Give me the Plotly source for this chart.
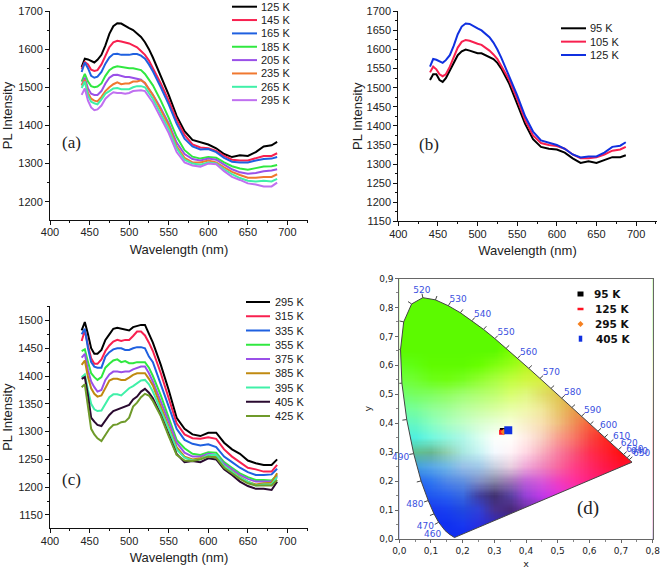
import numpy as np
import plotly.graph_objects as go

wavelength = [440,444,448,452,456,460,465,470,475,480,485,490,495,500,505,510,515,520,525,530,540,550,560,570,580,590,600,610,620,630,640,650,660,670,680,687]

a_labels = ["125 K","145 K","165 K","185 K","205 K","235 K","265 K","295 K"]
a_125 = [1553,1575,1573,1570,1565,1572,1585,1610,1640,1660,1668,1667,1660,1655,1650,1640,1632,1618,1600,1578,1530,1480,1425,1385,1362,1355,1350,1340,1325,1317,1322,1320,1330,1345,1348,1357]
a_145 = [1548,1566,1560,1546,1543,1545,1560,1585,1605,1618,1622,1620,1618,1615,1610,1605,1595,1585,1570,1550,1510,1465,1415,1375,1350,1342,1340,1333,1320,1310,1308,1308,1315,1320,1320,1327]
a_165 = [1540,1565,1550,1530,1525,1528,1540,1562,1578,1587,1588,1585,1585,1585,1587,1587,1583,1575,1560,1542,1500,1455,1405,1365,1345,1337,1338,1330,1315,1305,1303,1303,1308,1312,1313,1317]
a_185 = [1515,1535,1515,1503,1500,1502,1510,1530,1545,1552,1555,1553,1553,1550,1550,1548,1545,1535,1520,1505,1465,1420,1370,1335,1318,1313,1317,1315,1303,1293,1287,1284,1288,1292,1293,1296]
a_205 = [1505,1525,1497,1483,1480,1480,1490,1510,1525,1532,1533,1530,1527,1527,1525,1523,1520,1510,1495,1480,1445,1405,1355,1325,1312,1308,1313,1310,1297,1285,1277,1273,1275,1280,1282,1285]
a_235 = [1505,1520,1485,1470,1465,1463,1475,1490,1500,1508,1513,1508,1510,1510,1515,1515,1518,1512,1495,1480,1440,1400,1345,1315,1303,1303,1308,1303,1290,1278,1270,1263,1263,1265,1265,1272]
a_265 = [1498,1515,1478,1462,1458,1455,1468,1483,1490,1497,1498,1495,1495,1495,1500,1503,1503,1500,1485,1470,1430,1390,1340,1310,1300,1297,1303,1300,1285,1272,1262,1255,1253,1255,1253,1260]
a_295 = [1480,1497,1465,1447,1440,1442,1452,1470,1480,1487,1485,1485,1483,1485,1490,1492,1492,1490,1475,1460,1420,1380,1330,1303,1295,1292,1300,1298,1280,1265,1257,1248,1245,1240,1240,1250]

b_labels = ["95 K","105 K","125 K"]
b_95 = [1520,1535,1535,1520,1515,1525,1545,1565,1585,1595,1600,1597,1593,1590,1590,1585,1580,1575,1565,1550,1510,1460,1405,1365,1345,1340,1338,1330,1315,1303,1307,1303,1310,1318,1318,1323]
b_105 = [1540,1555,1548,1535,1530,1535,1555,1580,1605,1620,1625,1623,1618,1615,1612,1605,1597,1587,1575,1557,1520,1470,1415,1375,1355,1350,1347,1340,1325,1315,1315,1318,1325,1335,1338,1345]
b_125 = [1555,1575,1573,1570,1565,1572,1585,1610,1640,1660,1668,1667,1660,1655,1650,1640,1632,1618,1600,1578,1530,1480,1425,1385,1362,1355,1350,1340,1325,1317,1320,1320,1330,1345,1348,1357]

c_labels = ["295 K","315 K","335 K","355 K","375 K","385 K","395 K","405 K","425 K"]
c_295 = [1482,1497,1475,1450,1440,1440,1447,1465,1475,1485,1487,1485,1483,1482,1488,1490,1492,1492,1475,1460,1420,1375,1325,1305,1295,1292,1298,1298,1280,1268,1260,1248,1243,1240,1240,1250]
c_315 = [1463,1482,1455,1432,1422,1422,1430,1445,1455,1462,1465,1463,1465,1465,1472,1480,1480,1473,1460,1445,1405,1360,1315,1295,1288,1287,1290,1287,1268,1255,1245,1235,1232,1228,1228,1240]
c_335 = [1475,1485,1450,1425,1417,1415,1415,1435,1443,1448,1450,1450,1447,1447,1450,1452,1452,1450,1435,1425,1385,1345,1305,1285,1278,1275,1277,1272,1255,1245,1235,1227,1222,1222,1223,1233]
c_355 = [1445,1448,1425,1405,1398,1393,1398,1415,1422,1428,1430,1425,1427,1423,1423,1425,1425,1425,1415,1400,1365,1325,1285,1270,1260,1258,1263,1262,1245,1235,1225,1218,1213,1213,1212,1222]
c_375 = [1433,1440,1410,1390,1380,1372,1375,1393,1403,1408,1408,1407,1408,1408,1412,1415,1417,1417,1405,1390,1355,1318,1280,1262,1255,1255,1260,1258,1242,1232,1222,1215,1210,1210,1210,1220]
c_385 = [1420,1428,1398,1378,1368,1363,1365,1380,1392,1395,1395,1393,1393,1397,1402,1405,1405,1405,1395,1383,1345,1310,1272,1255,1250,1252,1257,1255,1238,1228,1218,1210,1205,1207,1208,1225]
c_395 = [1398,1403,1375,1350,1340,1337,1338,1350,1362,1367,1367,1365,1372,1378,1382,1387,1392,1393,1385,1372,1340,1305,1268,1253,1248,1250,1258,1258,1238,1228,1217,1210,1203,1205,1205,1218]
c_405 = [1395,1398,1365,1325,1318,1312,1310,1320,1330,1337,1340,1342,1345,1348,1358,1363,1372,1377,1370,1360,1330,1295,1260,1245,1247,1245,1252,1250,1232,1222,1210,1202,1197,1197,1195,1210]
c_425 = [1380,1385,1345,1305,1295,1288,1283,1295,1305,1312,1313,1317,1318,1325,1345,1352,1362,1368,1365,1355,1328,1292,1258,1248,1247,1250,1255,1253,1235,1225,1215,1207,1203,1203,1203,1213]

# Panel (d): CIE chromaticity
locus_x = [.1741,.1644,.1566,.1440,.1241,.1096,.0913,.0687,.0454,.0235,.0082,.0039,.0139,.0389,.0743,.1142,.1547,.1929,.2296,.2658,.3016,.3373,.3731,.4087,.4441,.4788,.5125,.5448,.5752,.6029,.6270,.6482,.6658,.6915,.7079,.7190,.7260,.7347]
locus_y = [.0050,.0109,.0177,.0297,.0578,.0868,.1327,.2007,.2950,.4127,.5384,.6548,.7502,.8120,.8338,.8262,.8059,.7816,.7543,.7243,.6923,.6589,.6245,.5896,.5547,.5202,.4866,.4544,.4242,.3965,.3725,.3514,.3340,.3083,.2920,.2809,.2740,.2653]
spec_labels = ["440","450","460","470","480","490","500","510","520","530","540","550","560","570","580","590","600","610","620","630","640","650"]
spec_x = [.126,.113,.105,.082,.049,.004,-.033,-.027,.071,.186,.263,.337,.408,.480,.547,.610,.661,.702,.726,.744,.758,.765]
spec_y = [-.009,-.001,.013,.041,.117,.282,.526,.742,.856,.828,.775,.712,.643,.574,.505,.443,.392,.353,.328,.310,.300,.293]
d_labels = ["95 K","125 K","295 K","405 K"]
d_x = [.327,.323,.330,.344]
d_y = [.373,.369,.370,.376]
d_ticks_x = [0,.1,.2,.3,.4,.5,.6,.7,.8]
d_ticks_y = [0,.1,.2,.3,.4,.5,.6,.7,.8,.9]
d_ticktext_x = ["0,0","0,1","0,2","0,3","0,4","0,5","0,6","0,7","0,8"]
d_ticktext_y = ["0,0","0,1","0,2","0,3","0,4","0,5","0,6","0,7","0,8","0,9"]

grid_x = [round(.05*i,2) for i in range(16)]
grid_y = [round(.05*i,2) for i in range(18)]  # bottom to top
G = "#5CFA00"; R = "#FF1010"; B = "#1030F0"
color_rows = [
 [B,B,B,B,"#1028F0","#1828E0","#2828C8","#3020A8","#3820A0","#3820A0","#4020A0","#4020A0","#4020A0","#4020A0","#4020A0","#4020A0"],
 [B,B,B,B,"#1838F0","#2830E0","#3028C0","#3820A0","#4820A8","#6028B8","#8028C8","#A030D0","#C030D0","#D030C0","#E030B0","#E030B0"],
 [B,B,"#1838F0","#1840F0","#2048E0","#3040D8","#483090","#482878","#6830A0","#8830C8","#B030D8","#E030D0","#F030C0","#FF20A0","#FF2090","#FF2090"],
 ["#1848F0","#1848F0","#2058F0","#2860F0","#3868E0","#403FA0","#403070","#5840A0","#9840D8","#C038E8","#E030E0","#F030C0","#FF2098","#FF2088","#FF2080","#FF2080"],
 ["#2060F0","#2868F0","#3078F0","#5088E8","#6090E0","#8090C8","#8888A8","#A078B8","#C060D8","#D858D8","#F040C0","#FF30A0","#FF2080","#FF1868","#FF1858","#FF1858"],
 ["#3080F0","#40A0E0","#58A8E8","#70B8E8","#98C0E8","#A0C8E8","#C8D0E0","#E8D0E0","#F0A8D8","#F088C0","#F868A0","#FF4088","#FF2868","#FF1848","#FF1030","#FF1030"],
 ["#60D8B0","#60C090","#68B890","#90D0B0","#A8E8E0","#C8F4F4","#F4FAFF","#FFF4F8","#FFD8E4","#F8B0C0","#F880A0","#F85878","#FF3050","#FF2030",R,R],
 ["#50F0E0","#50F0E0","#70F8E0","#90F8E0","#B0F8E8","#D8FFF0","#FCFFFC","#FFFFFC","#FFECE4","#F8D0C0","#F8A090","#F87868","#F84840","#FF2820","#FF1818","#FF1818"],
 ["#60F8C8","#68F8C0","#88FFC0","#A8FFC0","#C0FFC8","#D8FFD0","#E8FFD8","#F8FFD8","#F8F0C8","#F8E0B0","#F0C080","#F09058","#F86038","#F84830","#F84830","#F84830"],
 ["#70FFA0","#78FF98","#90FF98","#A0FF98","#B8FFA0","#C8FFA0","#D8FFA0","#E8FFA8","#F0F8A8","#F0E898","#E8C868","#E8A048","#E09040","#E09040","#E09040","#E09040"],
 ["#70FF70","#78FF60","#80FF60","#90FF60","#A0FF70","#B0FF70","#C0FF70","#D8FF70","#E0F880","#E0E068","#E0C850","#D8A840","#D8A840","#D8A840","#D8A840","#D8A840"],
 ["#70FF40","#70FF30","#6CFF18","#70FF10","#78FF20","#90FF30","#A8FF40","#C0FF40","#D0F840","#D8F040","#D8E040","#D8E040","#D8E040","#D8E040","#D8E040","#D8E040"],
 ["#60FF20","#60FF10","#60FC00","#60FC00","#60FC00","#68FF00","#80FF10","#98FF18","#B8F820","#C8F020","#C8F020","#C8F020","#C8F020","#C8F020","#C8F020","#C8F020"],
 [G,G,G,G,G,G,G,"#78FF00","#90FF10","#A0F810","#A0F810","#A0F810","#A0F810","#A0F810","#A0F810","#A0F810"],
 [G]*16, [G]*16, [G]*16, [G]*16,
]

def hex2rgb(h):
    return [int(h[1:3],16), int(h[3:5],16), int(h[5:7],16)]

rgb = np.array([[hex2rgb(c) for c in row] for row in color_rows], dtype=float)
fine_x = np.arange(0, .8001, .004)
fine_y = np.arange(0, .9001, .004)
img = np.zeros((len(fine_y), len(fine_x), 3))
tmp = np.zeros((len(grid_y), len(fine_x), 3))
for ch in range(3):
    for j in range(len(grid_y)):
        tmp[j,:,ch] = np.interp(fine_x, grid_x, rgb[j,:,ch])
    for i in range(len(fine_x)):
        img[:,i,ch] = np.interp(fine_y, grid_y, tmp[:,i,ch])
img = img.astype(np.uint8)

W, H = 661, 571
def dom(lo, hi, size):
    return [lo/size, hi/size]
def vdom(top, bottom):
    return [1-bottom/H, 1-top/H]
def px(x):
    return x/W
def py(y):
    return 1-y/H

A_COLORS = ["#000000","#F8204F","#1F60E0","#30E840","#9A50E8","#F07830","#40F0A8","#C070F0"]
B_COLORS = ["#000000","#F8204F","#1030E0"]
C_COLORS = ["#000000","#F8204F","#1F60E0","#30E840","#9A50E8","#C08A10","#40F0A8","#2A0A30","#6F9A2A"]
TXT = "#222222"
FONT = "Liberation Sans"

fig = go.Figure()
def add_panel(series, labels, colors, xa, ya):
    for vals, name, col in zip(series, labels, colors):
        fig.add_trace(go.Scatter(x=wavelength, y=vals, mode="lines", name=name,
                                 line=dict(color=col, width=2), xaxis=xa, yaxis=ya))

add_panel([a_125,a_145,a_165,a_185,a_205,a_235,a_265,a_295], a_labels, A_COLORS, "x", "y")
add_panel([b_95,b_105,b_125], b_labels, B_COLORS, "x2", "y2")
add_panel([c_295,c_315,c_335,c_355,c_375,c_385,c_395,c_405,c_425], c_labels, C_COLORS, "x3", "y3")

# Panel d
fig.add_trace(go.Image(z=img, x0=0, y0=0, dx=.004, dy=.004, xaxis="x4", yaxis="y4", hoverinfo="skip"))
mask_x = [-.02,.82,.82,-.02,-.02] + locus_x + [locus_x[0],-.02]
mask_y = [-.02,-.02,.92,.92,-.02] + locus_y + [locus_y[0],-.02]
fig.add_trace(go.Scatter(x=mask_x, y=mask_y, mode="none", fill="toself", fillcolor="white",
                         xaxis="x4", yaxis="y4", hoverinfo="skip"))
fig.add_trace(go.Scatter(x=locus_x+[locus_x[0]], y=locus_y+[locus_y[0]], mode="lines",
                         line=dict(color="#444444", width=1), xaxis="x4", yaxis="y4", hoverinfo="skip"))
lx, ly = np.array(locus_x), np.array(locus_y)
dxs, dys = np.gradient(lx), np.gradient(ly)
norm = np.hypot(dxs, dys)
tick_x, tick_y = [], []
for i in range(4, len(lx)-1):
    tick_x += [lx[i], lx[i]-dys[i]/norm[i]*.014, None]
    tick_y += [ly[i], ly[i]+dxs[i]/norm[i]*.014, None]
fig.add_trace(go.Scatter(x=tick_x, y=tick_y, mode="lines", line=dict(color="#444444", width=1),
                         xaxis="x4", yaxis="y4", cliponaxis=False, hoverinfo="skip"))
fig.add_trace(go.Scatter(x=spec_x, y=spec_y, mode="text", text=spec_labels, textposition="middle center",
                         textfont=dict(family="DejaVu Sans", size=9, color="#3A50E0"), cliponaxis=False,
                         xaxis="x4", yaxis="y4", hoverinfo="skip"))
d_sym = ["square","square","diamond","square"]
d_col = ["#000000","#FF1020","#F58020","#1030E0"]
d_size = [6,5,5,8]
for i in range(4):
    fig.add_trace(go.Scatter(x=[d_x[i]], y=[d_y[i]], mode="markers", name=d_labels[i],
                             marker=dict(symbol=d_sym[i], color=d_col[i], size=d_size[i]),
                             xaxis="x4", yaxis="y4"))

def spectrum_x(dom_, anchor, standoff):
    return dict(domain=dom_, range=[400,726], tick0=400, dtick=50, ticks="outside", ticklen=4, tickwidth=1, anchor=anchor,
                showline=True, linecolor="#111111", linewidth=1, showgrid=False, zeroline=False, automargin=False,
                minor=dict(ticks="outside", ticklen=2, dtick=25, tick0=400, tickcolor="#111111"),
                tickcolor="#111111", tickfont=dict(family=FONT, size=11, color=TXT), ticklabelstandoff=-2,
                title=dict(text="Wavelength (nm)", font=dict(family=FONT, size=13, color=TXT), standoff=standoff))
def spectrum_y(dom_, rng, dt, mdt, tick0, anchor, standoff):
    return dict(domain=dom_, range=rng, tick0=tick0, dtick=dt, ticks="outside", ticklen=4, tickwidth=1, anchor=anchor,
                showline=True, linecolor="#111111", linewidth=1, showgrid=False, zeroline=False, automargin=False,
                minor=dict(ticks="outside", ticklen=2, dtick=mdt, tick0=tick0, tickcolor="#111111"),
                tickcolor="#111111", tickfont=dict(family=FONT, size=11, color=TXT),
                title=dict(text="PL Intensity", font=dict(family=FONT, size=13, color=TXT), standoff=standoff))

shapes, annots = [], []
def key_legend(labels, colors, x0, x1, xt, y0, step):
    for i, (lab, col) in enumerate(zip(labels, colors)):
        y = y0 + i*step
        shapes.append(dict(type="line", xref="paper", yref="paper", x0=px(x0), x1=px(x1), y0=py(y), y1=py(y),
                           line=dict(color=col, width=2)))
        annots.append(dict(text=lab, xref="paper", yref="paper", x=px(xt), y=py(y), xanchor="left", yanchor="middle",
                           showarrow=False, font=dict(family=FONT, size=11, color=TXT)))
key_legend(a_labels, A_COLORS, 232, 257, 259, 6.7, 13.35)
key_legend(b_labels, B_COLORS, 561, 586, 588, 28.3, 13.35)
key_legend(c_labels, C_COLORS, 246, 270, 273, 302, 14.25)

# (d) legend
def rect(xc, yc, w, h, col):
    shapes.append(dict(type="rect", xref="paper", yref="paper", x0=px(xc-w/2), x1=px(xc+w/2), y0=py(yc+h/2), y1=py(yc-h/2),
                       fillcolor=col, line=dict(width=0)))
rect(580.5, 294, 6, 5, "#000000")
rect(580.5, 309, 6, 2.5, "#FF1020")
shapes.append(dict(type="path", xref="paper", yref="paper", fillcolor="#F58020", line=dict(width=0),
                   path=f"M {px(577.5)},{py(324)} L {px(580.5)},{py(321)} L {px(583.5)},{py(324)} L {px(580.5)},{py(327)} Z"))
rect(580.5, 338.7, 3.5, 6, "#1030E0")
for lab, xt, yt in zip(d_labels, [591.5,593,593,593.5], [294,309,324,339]):
    annots.append(dict(text=f"<b>{lab}</b>", xref="paper", yref="paper", x=px(xt), y=py(yt), xanchor="left", yanchor="middle",
                       showarrow=False, font=dict(family="DejaVu Sans", size=10.5, color="#111111")))
annots += [
    dict(text="(a)", x=427, y=1354, xref="x", yref="y", showarrow=False, font=dict(family="Liberation Serif", size=17, color=TXT)),
    dict(text="(b)", x=439, y=1352, xref="x2", yref="y2", showarrow=False, font=dict(family="Liberation Serif", size=17, color=TXT)),
    dict(text="(c)", x=427, y=1214, xref="x3", yref="y3", showarrow=False, font=dict(family="Liberation Serif", size=17, color=TXT)),
    dict(text="(d)", x=.595, y=.107, xref="x4", yref="y4", showarrow=False, font=dict(family="Liberation Serif", size=19, color=TXT)),
]

lay = dict(width=W, height=H, margin=dict(l=0,r=0,t=0,b=0,pad=0), paper_bgcolor="white", plot_bgcolor="white",
    xaxis=spectrum_x(dom(50,308,W),"y",7), yaxis=spectrum_y(vdom(11,220),[1152,1700],100,50,1200,"x",2),
    xaxis2=spectrum_x(dom(398.3,656.7,W),"y2",7), yaxis2=spectrum_y(vdom(11.3,221.3),[1150,1700],50,25,1150,"x2",1),
    xaxis3=spectrum_x(dom(50,308,W),"y3",7), yaxis3=spectrum_y(vdom(306,528.3),[1126,1526],50,25,1150,"x3",7),
    xaxis4=dict(domain=dom(399.3,652.7,W), range=[0,.8], tickvals=d_ticks_x, ticktext=d_ticktext_x, anchor="y4",
                ticks="outside", ticklen=3, tickcolor="#666666", showline=True, linecolor="#666666", mirror=True,
                showgrid=False, zeroline=False, automargin=False, tickfont=dict(family="DejaVu Sans", size=9, color=TXT),
                minor=dict(ticks="outside", ticklen=2, dtick=.05, tick0=0, tickcolor="#888888"),
                title=dict(text="x", font=dict(family="DejaVu Sans", size=9.5, color=TXT), standoff=5)),
    yaxis4=dict(domain=vdom(278.5,539), range=[0,.9], tickvals=d_ticks_y, ticktext=d_ticktext_y, anchor="x4",
                scaleanchor=False, constrain="range",
                ticks="outside", ticklen=3, tickcolor="#666666", showline=True, linecolor="#666666", mirror=True,
                showgrid=False, zeroline=False, automargin=False, tickfont=dict(family="DejaVu Sans", size=9, color=TXT),
                minor=dict(ticks="outside", ticklen=2, dtick=.05, tick0=0, tickcolor="#888888"),
                title=dict(text="y", font=dict(family="DejaVu Sans", size=9.5, color=TXT), standoff=5)),
    showlegend=False, shapes=shapes, annotations=annots)
fig.update_layout(**lay)
fig.write_html("out.html", post_script="document.body.style.margin='0';", config=dict(displayModeBar=False))
